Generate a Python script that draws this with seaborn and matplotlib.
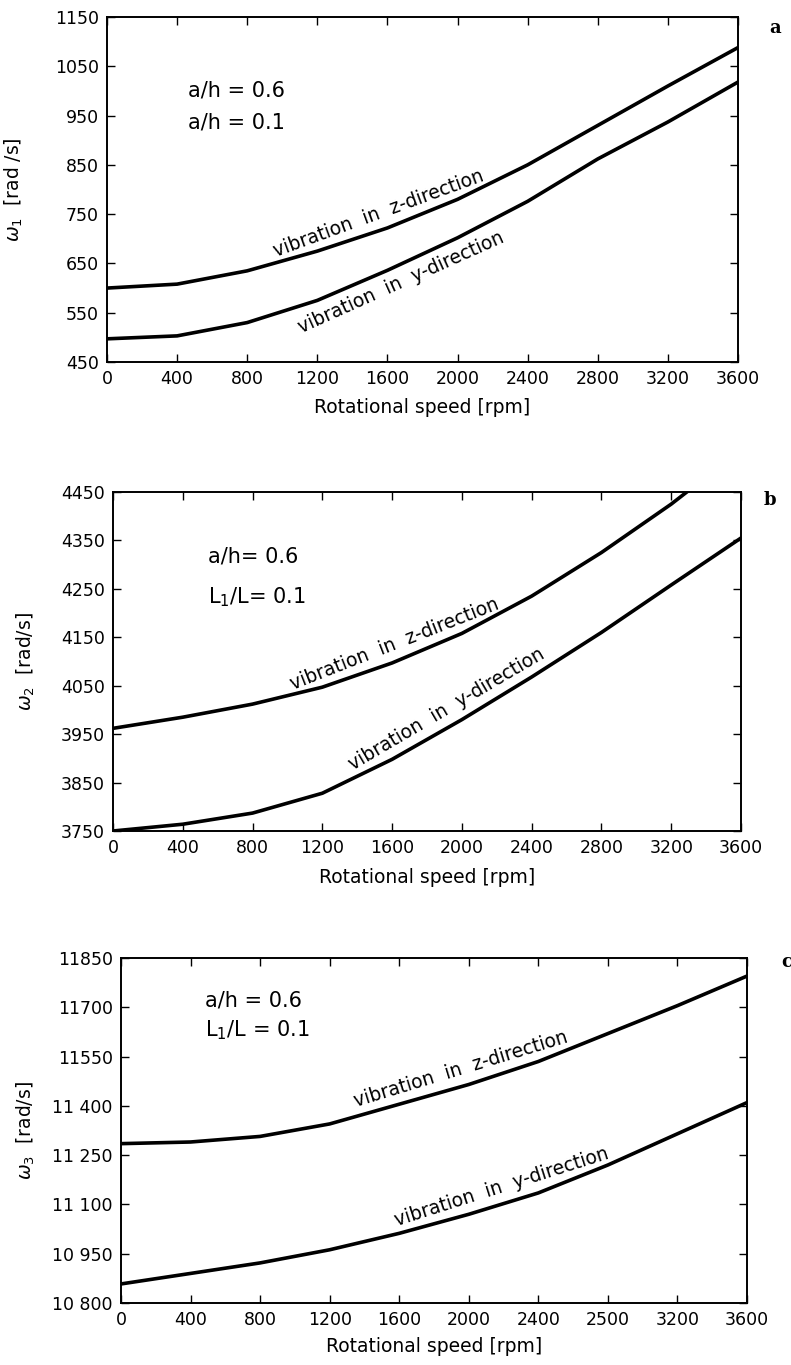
import numpy as np
import pandas as pd
import matplotlib
matplotlib.use("Agg")
import matplotlib.pyplot as plt
import seaborn as sns

# ---------------- data ----------------
rpm = [0, 400, 800, 1200, 1600, 2000, 2400, 2800, 3200, 3600]

a_z = [600, 608, 635, 675, 722, 780, 850, 930, 1010, 1088]
a_y = [497, 503, 530, 575, 636, 702, 776, 862, 937, 1018]

rpm_b_z = [0, 400, 800, 1200, 1600, 2000, 2400, 2800, 3200, 3300]
b_z = [3962, 3985, 4012, 4047, 4097, 4158, 4235, 4325, 4425, 4453]
b_y = [3750, 3764, 3787, 3828, 3898, 3980, 4068, 4160, 4258, 4355]

c_z = [11285, 11290, 11307, 11345, 11405, 11465, 11535, 11620, 11705, 11795]
c_y = [10858, 10890, 10922, 10962, 11012, 11070, 11135, 11220, 11315, 11410]

x_ticks = [0, 400, 800, 1200, 1600, 2000, 2400, 2800, 3200, 3600]
x_labels_ab = ["0", "400", "800", "1200", "1600", "2000", "2400", "2800", "3200", "3600"]
x_labels_c = ["0", "400", "800", "1200", "1600", "2000", "2400", "2500", "3200", "3600"]

a_yticks = [450, 550, 650, 750, 850, 950, 1050, 1150]
a_ylabels = ["450", "550", "650", "750", "850", "950", "1050", "1150"]
b_yticks = [3750, 3850, 3950, 4050, 4150, 4250, 4350, 4450]
b_ylabels = ["3750", "3850", "3950", "4050", "4150", "4250", "4350", "4450"]
c_yticks = [10800, 10950, 11100, 11250, 11400, 11550, 11700, 11850]
c_ylabels = ["10 800", "10 950", "11 100", "11 250", "11 400", "11550", "11700", "11850"]

# ---------------- style ----------------
sns.set_theme(style="ticks")
plt.rcParams["font.family"] = ["DejaVu Sans"]
plt.rcParams["mathtext.fontset"] = "dejavusans"
for k in ["text.color", "axes.labelcolor", "xtick.color", "ytick.color", "axes.edgecolor"]:
    plt.rcParams[k] = "black"

fig = plt.figure(figsize=(7.91, 13.65), dpi=100)
W, H = 791, 1365


def rect(L, R, T, B):
    return [L / W, 1 - B / H, (R - L) / W, (B - T) / H]


panels = [
    dict(L=107, R=738, T=17, B=362, xz=rpm, z=a_z, xy=rpm, y=a_y,
         ylim=(450, 1150), yt=a_yticks, yl=a_ylabels, xl=x_labels_ab,
         ylabel=r"$\omega_1$  [rad /s]", ylab_x=25, xlab_y=408,
         letter="a", letter_xy=(775, 28),
         notes=[("a/h = 0.6", 188, 90), ("a/h = 0.1", 188, 122)],
         zlab=(1580, +1), ylab=(1640, -1)),
    dict(L=113, R=741, T=492, B=831, xz=rpm_b_z, z=b_z, xy=rpm, y=b_y,
         ylim=(3750, 4450), yt=b_yticks, yl=b_ylabels, xl=x_labels_ab,
         ylabel=r"$\omega_2$  [rad/s]", ylab_x=37, xlab_y=878,
         letter="b", letter_xy=(770, 500),
         notes=[("a/h= 0.6", 208, 557), (r"L$_1$/L= 0.1", 208, 597)],
         zlab=(1650, +1), ylab=(1960, +1)),
    dict(L=121, R=747, T=958, B=1303, xz=rpm, z=c_z, xy=rpm, y=c_y,
         ylim=(10800, 11850), yt=c_yticks, yl=c_ylabels, xl=x_labels_c,
         ylabel=r"$\omega_3$  [rad/s]", ylab_x=37, xlab_y=1346,
         letter="c", letter_xy=(787, 962),
         notes=[("a/h = 0.6", 205, 1001), (r"L$_1$/L = 0.1", 205, 1030)],
         zlab=(1980, +1), ylab=(2220, +1)),
]

for p in panels:
    L, R, T, B = p["L"], p["R"], p["T"], p["B"]
    ax = fig.add_axes(rect(L, R, T, B))
    dz = pd.DataFrame({"rpm": p["xz"], "w": p["z"]})
    dy = pd.DataFrame({"rpm": p["xy"], "w": p["y"]})
    sns.lineplot(data=dz, x="rpm", y="w", ax=ax, color="black", lw=2.6, sort=False)
    sns.lineplot(data=dy, x="rpm", y="w", ax=ax, color="black", lw=2.6, sort=False)
    ax.set_xlim(0, 3600)
    ax.set_ylim(*p["ylim"])
    ax.set_xticks(x_ticks)
    ax.set_xticklabels(p["xl"])
    ax.set_yticks(p["yt"])
    ax.set_yticklabels(p["yl"])
    ax.tick_params(direction="in", length=6, width=1.0, top=True, right=True,
                   labelsize=12.5, colors="black", pad=6)
    for s in ax.spines.values():
        s.set_linewidth(1.4)
        s.set_color("black")
    ax.set_xlabel("Rotational speed [rpm]", fontsize=13.5)
    ax.set_ylabel(p["ylabel"], fontsize=13.5)
    ax.yaxis.set_label_coords((p["ylab_x"] - L) / (R - L), 0.5)
    ax.xaxis.set_label_coords(0.5, (B - p["xlab_y"]) / (B - T))
    ax.xaxis.label.set_va("center")
    ax.grid(False)
    fig.text(p["letter_xy"][0] / W, 1 - p["letter_xy"][1] / H, p["letter"],
             family="DejaVu Serif", fontweight="bold", fontsize=13,
             ha="center", va="center")
    for txt, x0, y0 in p["notes"]:
        fig.text(x0 / W, 1 - y0 / H, txt, fontsize=15, ha="left", va="center")

    # curve labels following the curve
    fig.canvas.draw()
    for (xc, side), xs, ys, label in [
        (p["zlab"], p["xz"], p["z"], "vibration  in  z-direction"),
        (p["ylab"], p["xy"], p["y"], "vibration  in  y-direction"),
    ]:
        yc = np.interp(xc, xs, ys)
        p1 = ax.transData.transform((xc - 250, np.interp(xc - 250, xs, ys)))
        p2 = ax.transData.transform((xc + 250, np.interp(xc + 250, xs, ys)))
        ang = np.degrees(np.arctan2(p2[1] - p1[1], p2[0] - p1[0]))
        d = 12 * side
        ox = -d * np.sin(np.radians(ang))
        oy = d * np.cos(np.radians(ang))
        ax.annotate(label, xy=(xc, yc), xytext=(ox, oy), textcoords="offset points",
                    rotation=ang, rotation_mode="anchor", ha="center", va="center",
                    fontsize=13.5)

fig.savefig("out.png", dpi=100)
